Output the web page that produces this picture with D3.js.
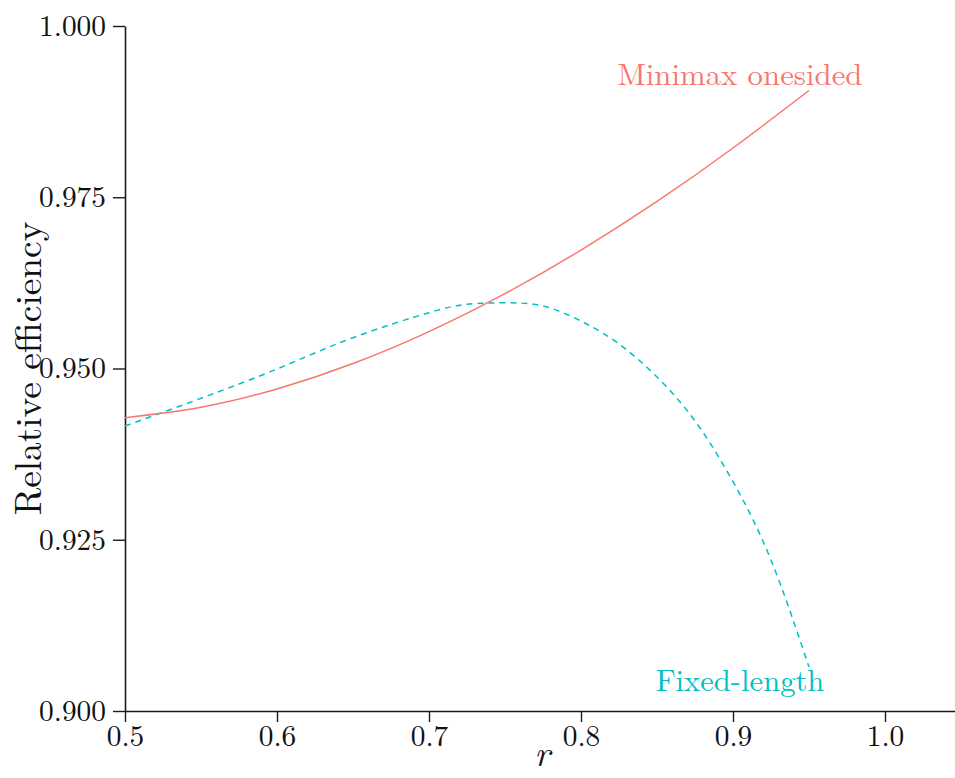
<!DOCTYPE html>
<html>
<head>
<meta charset="utf-8">
<script src="https://cdn.jsdelivr.net/npm/d3@7"></script>
<style>
  html, body { margin: 0; padding: 0; background: #ffffff; }
  svg { display: block; }
</style>
</head>
<body>
<svg id="chart" width="955" height="778"></svg>
<script>
// ---- data ----
const rMinimax = [0.50, 0.55, 0.60, 0.65, 0.70, 0.75, 0.80, 0.85, 0.90, 0.95];
const effMinimax = [0.94282, 0.94435, 0.94701, 0.95072, 0.95539, 0.96093, 0.96728, 0.97438, 0.98219, 0.99058];

const rFixed = [0.50, 0.55, 0.60, 0.65, 0.70, 0.725, 0.75, 0.775, 0.80, 0.825, 0.85, 0.875, 0.90, 0.925, 0.95];
const effFixed = [0.94161, 0.94565, 0.94993, 0.95450, 0.95815, 0.95937, 0.95959, 0.95912, 0.95693, 0.95358, 0.94876, 0.94234, 0.93349, 0.92204, 0.90642];

const xTicks = [0.5, 0.6, 0.7, 0.8, 0.9, 1.0];
const yTicks = [0.900, 0.925, 0.950, 0.975, 1.000];

const seriesNames = ["Minimax onesided", "Fixed-length"];
const seriesColors = ["#F8766D", "#00BFC4"];
const xLabel = "r";
const yLabel = "Relative efficiency";

// ---- layout ----
const FONT = '"Latin Modern Roman"';
const svg = d3.select("#chart");
const mLeft = 125, mRight = 955, mTop = 26, mBottom = 711;

const x = d3.scaleLinear().domain([0.5, 0.5 + (mRight - mLeft) / 1520]).range([mLeft, mRight]);
const y = d3.scaleLinear().domain([0.9, 1.0]).range([mBottom, mTop]);

const axisColor = "#1a1a1a";

// y axis
const gy = svg.append("g")
  .attr("transform", `translate(${mLeft},0)`)
  .call(d3.axisLeft(y).tickValues(yTicks).tickFormat(d3.format(".3f"))
    .tickSize(12).tickSizeOuter(0).tickPadding(7));
// x axis
const gx = svg.append("g")
  .attr("transform", `translate(0,${mBottom})`)
  .call(d3.axisBottom(x).tickValues(xTicks).tickFormat(d3.format(".1f"))
    .tickSize(11).tickSizeOuter(0).tickPadding(3));

[gx, gy].forEach(g => {
  g.select(".domain").attr("stroke", axisColor).attr("stroke-width", 1.6);
  g.selectAll(".tick line").attr("stroke", axisColor).attr("stroke-width", 1.4);
  g.selectAll(".tick text")
    .attr("fill", "#111")
    .style("font-family", FONT)
    .style("font-size", "29.4px");
});

// lines
const lineGen = d3.line()
  .x(d => x(d[0]))
  .y(d => y(d[1]))
  .curve(d3.curveNatural);

const minimaxData = rMinimax.map((r, i) => [r, effMinimax[i]]);
const fixedData = rFixed.map((r, i) => [r, effFixed[i]]);

svg.append("path")
  .datum(fixedData)
  .attr("d", lineGen)
  .attr("fill", "none")
  .attr("stroke", seriesColors[1])
  .attr("stroke-width", 1.5)
  .attr("stroke-dasharray", "6,5");

svg.append("path")
  .datum(minimaxData)
  .attr("d", lineGen)
  .attr("fill", "none")
  .attr("stroke", seriesColors[0])
  .attr("stroke-width", 1.5);

// series labels
svg.append("text")
  .attr("x", 740)
  .attr("y", 85)
  .attr("text-anchor", "middle")
  .attr("fill", seriesColors[0])
  .style("font-family", FONT)
  .style("font-size", "30.8px")
  .text(seriesNames[0]);

svg.append("text")
  .attr("x", 740)
  .attr("y", 691)
  .attr("text-anchor", "middle")
  .attr("fill", seriesColors[1])
  .style("font-family", FONT)
  .style("font-size", "30.6px")
  .text(seriesNames[1]);

// axis titles
svg.append("text")
  .attr("x", 542)
  .attr("y", 766)
  .attr("text-anchor", "middle")
  .attr("fill", "#111")
  .style("font-family", FONT)
  .style("font-size", "37px")
  .style("font-style", "italic")
  .text(xLabel);

svg.append("text")
  .attr("transform", `translate(41,${(mTop + mBottom) / 2}) rotate(-90)`)
  .attr("text-anchor", "middle")
  .attr("fill", "#111")
  .style("font-family", FONT)
  .style("font-size", "37.3px")
  .text(yLabel);
</script>
</body>
</html>
